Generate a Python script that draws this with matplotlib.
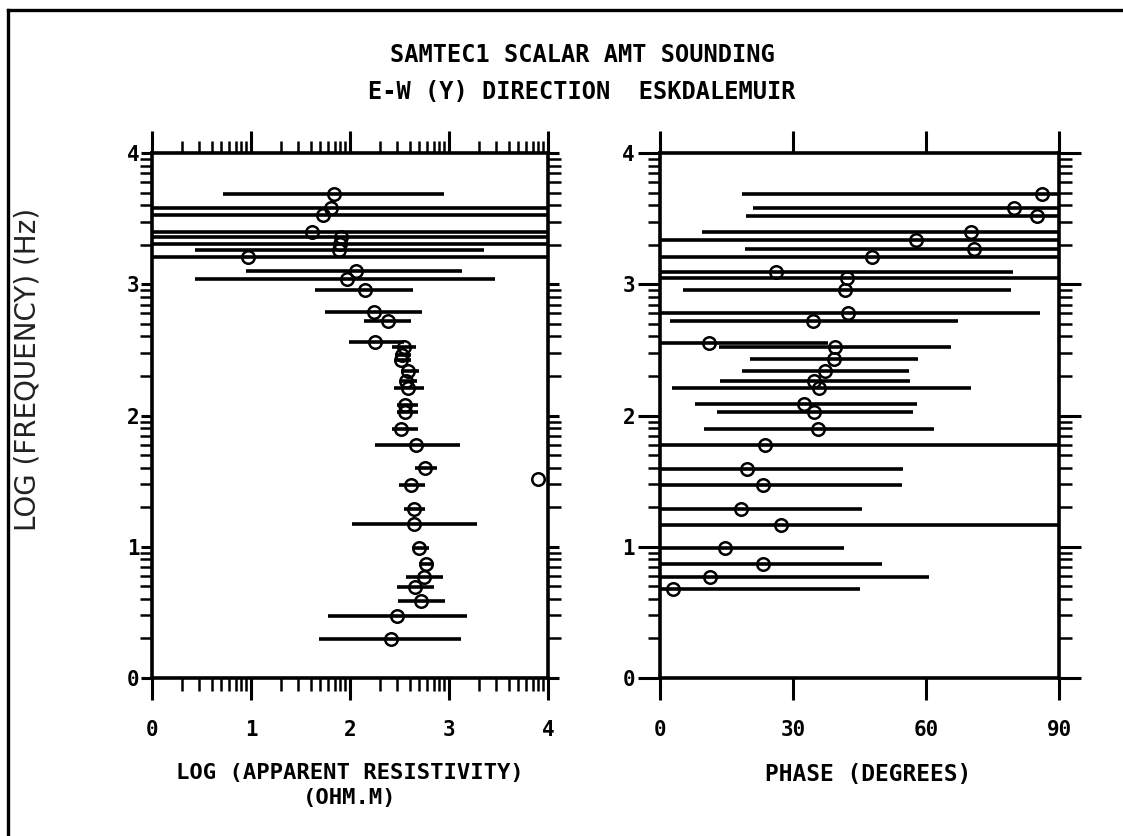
import numpy as np
import matplotlib
matplotlib.use("Agg")
import matplotlib.pyplot as plt
from matplotlib.lines import Line2D
from matplotlib.ticker import FixedLocator, NullLocator

# ---- left panel: log apparent resistivity against log frequency ----
rho_freq = [3.69, 3.58, 3.53, 3.40, 3.36, 3.31, 3.26, 3.21, 3.10, 3.04, 2.96,
            2.79, 2.72, 2.56, 2.52, 2.46, 2.42, 2.34, 2.265, 2.21, 2.08, 2.03,
            1.90, 1.775, 1.60, 1.52, 1.47, 1.29, 1.17, 0.99, 0.87, 0.77, 0.69,
            0.59, 0.47, 0.30]
rho = [1.84, 1.81, 1.73, 1.62, 1.91, 1.90, 1.89, 0.97, 2.06, 1.97, 2.15,
       2.24, 2.38, 2.25, 2.55, 2.53, 2.52, 2.59, 2.57, 2.59, 2.56, 2.56,
       2.52, 2.67, 2.76, 3.90, 2.62, 2.65, 2.65, 2.70, 2.77, 2.75, 2.66,
       2.72, 2.47, 2.41]
rho_lo = [0.72, -1, -1, -1, -1, -1, 0.43, -1, 0.95, 0.43, 1.65,
          1.75, 2.14, 1.99, 2.42, 2.45, 2.45, 2.52, 2.50, 2.44, 2.47, 2.47,
          2.42, 2.25, 2.66, 3.90, 2.49, 2.55, 2.02, 2.63, 2.70, 2.57, 2.47,
          2.48, 1.78, 1.69]
rho_hi = [2.95, 5, 5, 5, 5, 5, 3.35, 5, 3.13, 3.46, 2.64,
          2.73, 2.62, 2.55, 2.67, 2.62, 2.62, 2.70, 2.68, 2.75, 2.69, 2.69,
          2.69, 3.11, 2.88, 3.90, 2.76, 2.76, 3.28, 2.80, 2.85, 2.94, 2.85,
          2.96, 3.18, 3.12]

# ---- right panel: phase against log frequency ----
ph_freq = [3.69, 3.58, 3.52, 3.40, 3.34, 3.27, 3.21, 3.09, 3.045, 2.96,
           2.78, 2.72, 2.555, 2.525, 2.43, 2.34, 2.265, 2.21, 2.09, 2.03,
           1.90, 1.775, 1.59, 1.47, 1.29, 1.166, 0.99, 0.87, 0.767, 0.68]
phase = [86.2, 79.9, 85.1, 70.1, 57.7, 70.9, 47.9, 26.2, 42.1, 41.7,
         42.5, 34.6, 11.1, 39.5, 39.2, 37.2, 34.7, 35.9, 32.5, 34.8,
         35.7, 23.7, 19.7, 23.2, 18.3, 27.2, 14.7, 23.3, 11.3, 2.9]
ph_lo = [18.5, 21.0, 19.3, 9.4, -10, 19.2, -10, -10, -10, 5.3,
         -10, 2.3, -10, 13.4, 20.3, 18.6, 13.5, 2.8, 7.9, 12.8,
         10.0, -10, -10, -10, -10, -10, -10, -10, -10, -10]
ph_hi = [100, 100, 100, 100, 100, 100, 100, 79.7, 100, 79.2,
         85.7, 67.3, 37.8, 65.6, 58.3, 56.2, 56.4, 70.2, 57.9, 57.1,
         61.9, 100, 54.7, 54.5, 45.5, 100, 41.4, 50.0, 60.7, 45.1]

decades = [0, 1, 2, 3, 4]
log_minor = [d + np.log10(k) for d in range(4) for k in range(2, 10)]
phase_ticks = [0, 30, 60, 90]

TITLE1 = "SAMTEC1 SCALAR AMT SOUNDING"
TITLE2 = "E-W (Y) DIRECTION  ESKDALEMUIR"

W, H = 1123, 836
mono = {"family": "DejaVu Sans Mono", "weight": "bold"}

fig = plt.figure(figsize=(W / 100, H / 100), dpi=100)
fig.patch.set_facecolor("white")

ax1 = fig.add_axes([152 / W, 1 - 678 / H, 396 / W, 525 / H])
ax2 = fig.add_axes([660 / W, 1 - 678 / H, 399 / W, 525 / H])


def draw_panel(ax, x, y, lo, hi):
    x = np.asarray(x, float)
    xerr = [x - np.asarray(lo, float), np.asarray(hi, float) - x]
    ax.errorbar(x, y, xerr=xerr, fmt="o", ms=9, mfc="none", mec="black",
                mew=1.8, ecolor="black", elinewidth=2.6, capsize=0)
    for s in ax.spines.values():
        s.set_linewidth(2.6)
    ax.set_ylim(0, 4)
    ax.yaxis.set_major_locator(FixedLocator(decades))
    ax.yaxis.set_minor_locator(FixedLocator(log_minor))
    ax.tick_params(which="both", direction="out", top=True, right=True,
                   labeltop=False, labelright=False, colors="black")
    ax.tick_params(which="major", length=16, width=2.2)
    ax.tick_params(which="minor", length=9, width=1.8)
    ax.tick_params(axis="x", which="major", pad=14)


ax1.set_xlim(0, 4)
ax1.xaxis.set_major_locator(FixedLocator(decades))
ax1.xaxis.set_minor_locator(FixedLocator(log_minor))
draw_panel(ax1, rho, rho_freq, rho_lo, rho_hi)
ax1.tick_params(axis="y", which="major", length=8, pad=1)

ax2.set_xlim(0, 90)
ax2.xaxis.set_major_locator(FixedLocator(phase_ticks))
ax2.xaxis.set_minor_locator(NullLocator())
draw_panel(ax2, phase, ph_freq, ph_lo, ph_hi)
ax2.tick_params(axis="y", which="major", pad=2)

for lab in ax1.get_xticklabels() + ax1.get_yticklabels() + \
        ax2.get_xticklabels() + ax2.get_yticklabels():
    lab.set_fontfamily("DejaVu Sans Mono")
    lab.set_fontweight("bold")
    lab.set_fontsize(15)

# titles and axis labels
fig.text(582 / W, 1 - 55 / H, TITLE1, ha="center", va="center", fontsize=17, **mono)
fig.text(582 / W, 1 - 92 / H, TITLE2, ha="center", va="center", fontsize=17, **mono)
fig.text(350 / W, 1 - 773 / H, "LOG (APPARENT RESISTIVITY)", ha="center",
         va="center", fontsize=16, **mono)
fig.text(350 / W, 1 - 798 / H, "(OHM.M)", ha="center", va="center",
         fontsize=16, **mono)
fig.text(868 / W, 1 - 775 / H, "PHASE (DEGREES)", ha="center", va="center",
         fontsize=16.5, **mono)
fig.text(28 / W, 1 - 369 / H, "LOG (FREQUENCY) (Hz)", rotation=90,
         ha="center", va="center", fontsize=20, family="DejaVu Sans",
         color="#222222")

# frame around the sheet
fig.add_artist(Line2D([8 / W, 8 / W], [0, 1 - 10 / H], color="black", lw=2.4,
                      transform=fig.transFigure))
fig.add_artist(Line2D([8 / W, 1], [1 - 10 / H, 1 - 10 / H], color="black", lw=2.4,
                      transform=fig.transFigure))

fig.savefig("out.png", dpi=100)
